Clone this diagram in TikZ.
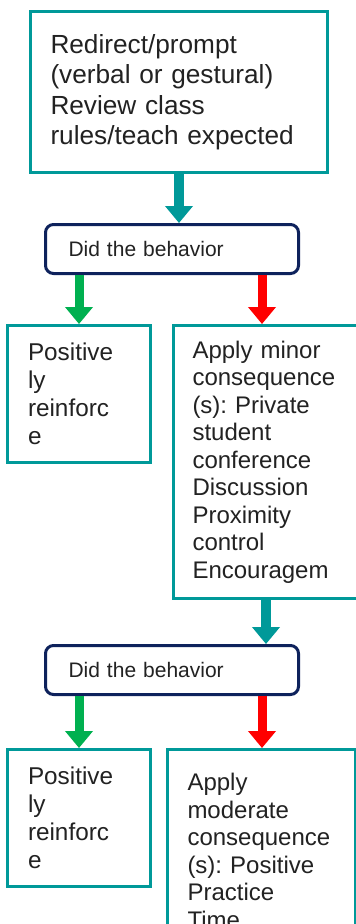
\documentclass[tikz,border=0pt]{standalone}
\usepackage{fontspec}
\setmainfont{Liberation Sans}
\usetikzlibrary{arrows.meta}
\frenchspacing
\definecolor{teal1}{RGB}{0,153,153}
\definecolor{navy1}{RGB}{14,34,92}
\definecolor{green1}{RGB}{0,176,80}
\definecolor{red1}{RGB}{255,0,0}
\definecolor{txt}{RGB}{34,34,34}
\tikzset{
  tealbox/.style={draw=teal1, line width=3pt, fill=white, anchor=north west, align=left, text=txt, inner ysep=0pt},
  decbox/.style={draw=navy1, line width=3pt, rounded corners=8pt, fill=white, anchor=north west, align=left, text=txt, inner ysep=0pt,
    minimum width=253pt, minimum height=49pt, inner xsep=23pt, text width=207pt, font=\fontsize{21}{24}\selectfont},
  smallbox/.style={tealbox, minimum width=143pt, minimum height=137pt, inner xsep=20.5pt, text width=102pt, font=\fontsize{24.3}{28}\selectfont},
  bigarrow/.style={line width=#1, -{Triangle[width=27pt,length=17pt]}},
  bigarrow/.default=9pt
}
\begin{document}
\begin{tikzpicture}[x=1pt,y=-1pt]
\useasboundingbox (0,0) rectangle (356,924);
\clip (0,0) rectangle (356,924);
\coordinate (rx) at (262,0);
\coordinate (tx) at (266,0);
% top box
\node[tealbox, minimum width=297pt, minimum height=161pt, inner xsep=20pt, text width=257pt,
  font=\fontsize{26.2}{30.5}\selectfont] (top) at (29,10)
  {Redirect/prompt\\(verbal or gestural)\\Review class\\rules/teach expected};
% first decision
\node[decbox] (dec1) at (44,223) {Did the behavior};
\node[smallbox] (pos1) at (6,324) {Positive\\ly\\reinforc\\e};
\node[tealbox, minimum width=228pt, minimum height=273pt, inner xsep=19pt, text width=190pt,
  font=\fontsize{24}{27.5}\selectfont] (min1) at (172,324)
  {Apply minor\\consequence\\(s): Private\\student\\conference\\Discussion\\Proximity\\control\\Encouragem};
% second decision
\node[decbox] (dec2) at (44,644) {Did the behavior};
\node[smallbox] (pos2) at (6,748) {Positive\\ly\\reinforc\\e};
\node[tealbox, minimum width=188pt, minimum height=203pt, inner xsep=20pt, text width=148pt,
  font=\fontsize{24}{27.5}\selectfont] (mod2) at (166,748)
  {Apply\\moderate\\consequence\\(s): Positive\\Practice\\Time};
% arrows
\draw[bigarrow=10pt, teal1] (top.south) -- (top.south |- dec1.north);
\draw[bigarrow, green1] (pos1.north |- dec1.south) -- (pos1.north);
\draw[bigarrow, red1] (dec1.south -| rx) -- (min1.north -| rx);
\draw[bigarrow=10pt, teal1] (min1.south -| tx) -- (dec2.north -| tx);
\draw[bigarrow, green1] (pos2.north |- dec2.south) -- (pos2.north);
\draw[bigarrow, red1] (dec2.south -| rx) -- (mod2.north -| rx);
\end{tikzpicture}
\end{document}
